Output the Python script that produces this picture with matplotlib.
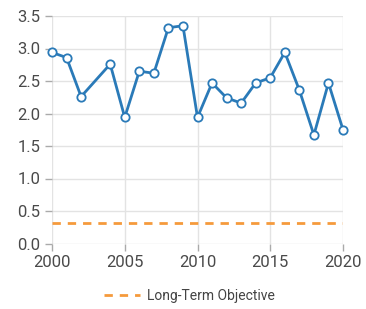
import matplotlib
matplotlib.use("Agg")
import matplotlib.pyplot as plt

years = [2000, 2001, 2002, 2004, 2005, 2006, 2007, 2008, 2009, 2010,
         2011, 2012, 2013, 2014, 2015, 2016, 2017, 2018, 2019, 2020]
values = [2.94, 2.86, 2.26, 2.76, 1.94, 2.65, 2.62, 3.32, 3.35, 1.94,
          2.47, 2.24, 2.16, 2.47, 2.55, 2.94, 2.36, 1.67, 2.47, 1.75]
objective = 0.31
objective_label = "Long-Term Objective"
x_ticks = [2000, 2005, 2010, 2015, 2020]
y_ticks = [0.0, 0.5, 1.0, 1.5, 2.0, 2.5, 3.0, 3.5]

plt.rcParams['font.family'] = ['Roboto', 'DejaVu Sans']

fig = plt.figure(figsize=(3.66, 3.09), dpi=100)
ax = fig.add_axes([52 / 366, 1 - 243.5 / 309, 291 / 366, 227.5 / 309])

ax.plot(years, values, color='#2a7ab8', linewidth=2, marker='o',
        markersize=6, markerfacecolor='white', markeredgecolor='#2a7ab8',
        markeredgewidth=1.3, zorder=3, clip_on=False)
ax.plot([x_ticks[0], x_ticks[-1]], [objective, objective], color='#f59a3c',
        linewidth=2, linestyle=(0, (3, 2.5)), label=objective_label, zorder=2)

ax.set_xlim(x_ticks[0], x_ticks[-1])
ax.set_ylim(0, 3.5)
ax.set_xticks(x_ticks)
ax.set_yticks(y_ticks)
ax.set_yticklabels([f"{v:.1f}" for v in y_ticks])
ax.grid(True, color='#e3e3e3', linewidth=1)
ax.set_axisbelow(True)
for s in ax.spines.values():
    s.set_visible(False)
ax.tick_params(colors='#aaaaaa', labelcolor='#4a4a4a', labelsize=12, length=5, width=1)

fig.legend(loc='center', bbox_to_anchor=(189 / 366, 1 - 296 / 309), frameon=False,
           fontsize=10, handlelength=2.6, handletextpad=0.5, labelcolor='#444444')

fig.savefig("out.png", dpi=100)
